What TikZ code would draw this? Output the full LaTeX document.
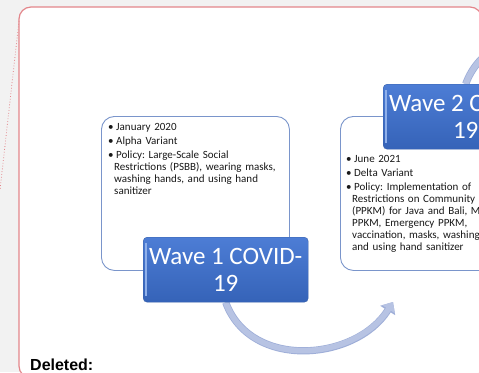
\documentclass[tikz,border=0pt]{standalone}
\usepackage{fontspec}
\setmainfont{Carlito}
\newfontfamily\delfont{Liberation Sans}
\usetikzlibrary{positioning,arrows.meta}

\definecolor{pagegray}{HTML}{F2F2F2}
\definecolor{markred}{HTML}{E3868B}
\definecolor{panelline}{HTML}{7A95CB}
\definecolor{wavetop}{HTML}{4D7DD5}
\definecolor{wavebot}{HTML}{3563B8}
\definecolor{waveedge}{HTML}{3A62AA}
\definecolor{wavehi}{HTML}{8FB0EA}
\definecolor{arrowfill}{HTML}{B7C3E3}
\definecolor{arrowedge}{HTML}{9EAED8}

\newcommand\bl{\noindent\makebox[8pt][l]{\textbullet}}
\newcommand\ind{\noindent\hspace*{6pt}}
\newcommand\gap{\par\vspace{2pt}}
\frenchspacing

\pgfdeclarelayer{back}
\pgfdeclarelayer{mid}
\pgfsetlayers{back,mid,main}

\begin{document}
\begin{tikzpicture}[
  x=1pt,y=-1pt,
  panel/.style={draw=panelline,fill=white,line width=0.9pt,rounded corners=13pt,
                minimum width=188pt,minimum height=154pt,inner sep=0pt,anchor=north west},
  notes/.style={text width=220pt,inner sep=0pt,anchor=north west,align=left,
                font=\fontsize{11}{12}\selectfont,text=black!90},
  wave/.style={draw=waveedge,top color=wavetop,bottom color=wavebot,rounded corners=4pt,
               minimum width=165pt,minimum height=65pt,inner sep=0pt,anchor=north west,
               text=white,align=center,font=\fontsize{25}{27}\selectfont},
  flow/.style={line width=#1,line cap=butt},
]
\useasboundingbox (0,0) rectangle (479,372);
\clip (0,0) rectangle (479,372);

\begin{pgfonlayer}{back}
  % page and the tracked-change frame
  \fill[pagegray] (0,0) rectangle (479,372);
  \draw[markred,line width=1.2pt,fill=white,rounded corners=12pt] (19,7) rectangle (482,378);
  \draw[markred,dotted,line width=0.8pt] (19,21) -- (0,190);
  % text panels
  \node[panel] (p1) at (101,116) {};
  \node[panel] (p2) at (340,116) {};
\end{pgfonlayer}

% ---- wave 1 ----
\node[notes,below right=7pt and 7pt of p1.north west] (n1) {%
  \bl January 2020\gap
  \bl Alpha Variant\gap
  \bl Policy: Large-Scale Social\par
  \ind Restrictions (PSBB), wearing masks,\par
  \ind washing hands, and using hand\par
  \ind sanitizer};
\node[wave] (w1) at (143,237) {Wave 1 COVID-\\19};
\draw[wavehi,line width=1.4pt] ([xshift=3pt,yshift=-6pt]w1.north west) -- ([xshift=3pt,yshift=6pt]w1.south west);

% ---- wave 2 ----
\node[wave] (w2) at (383,84) {Wave 2 COVID-\\19};
\draw[wavehi,line width=1.4pt] ([xshift=3pt,yshift=-6pt]w2.north west) -- ([xshift=3pt,yshift=6pt]w2.south west);
\node[notes,below right=6pt and 6pt of w2.south west-|p2.north west] (n2) {%
  \bl June 2021\gap
  \bl Delta Variant\gap
  \bl Policy: Implementation of\par
  \ind Restrictions on Community\par
  \ind (PPKM) for Java and Bali, Micro\par
  \ind PPKM, Emergency PPKM,\par
  \ind vaccination, masks, washing\par
  \ind and using hand sanitizer};

% ---- curved arrows ----
\coordinate (a1end) at (393,302);
\coordinate (a2end) at (632,85);
\begin{pgfonlayer}{mid}
  \draw[flow=7.2pt,arrowedge,-{Triangle[length=10pt,width=17pt]}]
    (w1.south) .. controls +(25,68) and +(-37,59) .. (a1end);
  \draw[flow=5.6pt,arrowfill,-{Triangle[length=8.5pt,width=14.5pt]}]
    (w1.south) .. controls +(25,68) and +(-37,59) .. (a1end);
  \draw[flow=7.2pt,arrowedge] (w2.north) .. controls +(25,-68) and +(-37,-59) .. (a2end);
  \draw[flow=5.6pt,arrowfill] (w2.north) .. controls +(25,-68) and +(-37,-59) .. (a2end);
\end{pgfonlayer}

\node[anchor=base west,inner sep=0pt,font=\delfont\bfseries\fontsize{16}{19}\selectfont] (del) at (30,370) {Deleted:};
\end{tikzpicture}
\end{document}
